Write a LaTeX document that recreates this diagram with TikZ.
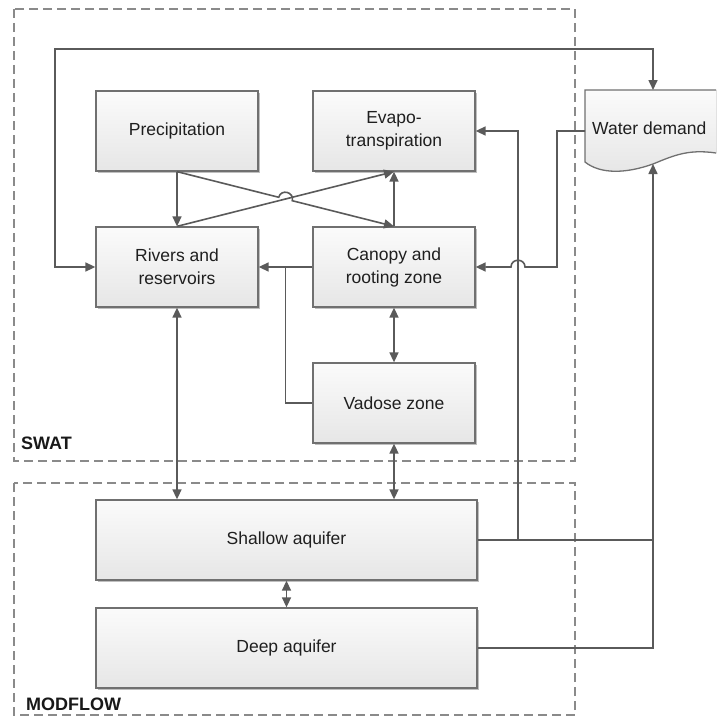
\documentclass[tikz,border=0pt]{standalone}
\usepackage{fontspec}
\setmainfont{Liberation Sans}
\usetikzlibrary{arrows.meta,calc,shadows}
\definecolor{boxline}{HTML}{707070}
\definecolor{boxtop}{HTML}{FBFBFB}
\definecolor{boxbot}{HTML}{E6E6E6}
\definecolor{connc}{HTML}{5A5A5A}
\definecolor{dashgray}{HTML}{8A8A8A}
\begin{document}
\begin{tikzpicture}[x=1pt,y=-1pt,
  box/.style={draw=boxline, line width=1.3pt, top color=boxtop, bottom color=boxbot,
    minimum width=162pt, minimum height=80pt, align=center, inner sep=2pt,
    font=\fontsize{17.5}{23}\selectfont, text=black!88,
    drop shadow={shadow xshift=1.5pt, shadow yshift=-1.5pt, fill=black!25, opacity=1}},
  conn/.style={draw=connc, line width=1.6pt},
  tip/.style={-{Triangle[length=10pt,width=9pt]}},
  dtip/.style={{Triangle[length=10pt,width=9pt]}-{Triangle[length=10pt,width=9pt]}},
  grp/.style={draw=dashgray, line width=1.4pt, dash pattern=on 9pt off 5pt},
  grplabel/.style={anchor=west, font=\bfseries\fontsize{18}{18}\selectfont, text=black!90, inner sep=0pt}]
\useasboundingbox (0,0) rectangle (716,717);
\clip (0,0) rectangle (716,717);

% group frames
\draw[grp] (14,9) rectangle (575,461);
\draw[grp] (14,483) rectangle (575,715);
\node[grplabel] (swat) at (21,443) {SWAT};
\node[grplabel] (modflow) at (26,704) {MODFLOW};

% boxes
\node[box] (pc) at (177,131) {Precipitation};
\node[box] (ev) at (394,131) {Evapo-\\transpiration};
\node[box] (rv) at (177,267) {Rivers and\\reservoirs};
\node[box] (cn) at (394,267) {Canopy and\\rooting zone};
\node[box] (vd) at (394,403) {Vadose zone};
\node[box, minimum width=381pt] (sh) at (286.5,540) {Shallow aquifer};
\node[box, minimum width=381pt] (dp) at (286.5,648) {Deep aquifer};

% water demand document shape
\fill[top color=boxtop, bottom color=boxbot] (585,90) -- (722,90) -- (722,154) .. controls (690,148) and (675,155) .. (653,164) .. controls (625,174) and (600,174) .. (585,162) -- cycle;
\draw[boxline, line width=1.3pt] (722,90) -- (585,90) -- (585,162) .. controls (600,174) and (625,174) .. (653,164) .. controls (675,155) and (690,148) .. (722,154);
\node[font=\fontsize{17.5}{23}\selectfont, text=black!88, anchor=west, inner sep=0pt] (wd) at (592,128) {Water demand};
\coordinate (wdL) at (585,131);
\coordinate (wdT) at (653,90);
\coordinate (wdB) at (653,164);

% connectors
\draw[conn,tip] (pc.south) -- (rv.north);
\draw[conn,tip] (cn.north) -- (ev.south);
\draw[conn,tip] (rv.north) -- (ev.south);
\coordinate (X) at (intersection of pc.south--cn.north and rv.north--ev.south);
\coordinate (h1) at ($(X)!7pt!(pc.south)$);
\coordinate (h2) at ($(X)!7pt!(cn.north)$);
\draw[conn,tip] (pc.south) -- (h1) .. controls ($(h1)!9pt!90:(h2)$) and ($(h2)!9pt!-90:(h1)$) .. (h2) -- (cn.north);

\draw[conn,tip] (cn.west) -- (rv.east);
\coordinate (jn) at ($(rv.east)!0.5!(cn.west)$);
\draw[conn] (vd.west) -| (jn);

\draw[conn,dtip] (rv.south) -- (rv.south |- sh.north);
\draw[conn,dtip] (cn.south) -- (vd.north);
\draw[conn,dtip] (vd.south) -- (vd.south |- sh.north);
\draw[conn,dtip] (sh.south) -- (dp.north);

% aquifers to water demand / evapotranspiration
\draw[conn] (sh.east) -- (sh.east -| wdB);
\draw[conn,tip] (sh.east -| 518,0) -- (518,131) -- (ev.east);
\draw[conn,tip] (dp.east) -- (dp.east -| wdB) -- (wdB);

% water demand to canopy (with hop)
\draw[conn,tip] (wdL) -- (557,131) -- (557,267) -- (525,267)
  .. controls (525,258) and (511,258) .. (511,267) -- (cn.east);

% loop rivers <-> water demand
\draw[conn,dtip] (rv.west) -- (55,267) -- (55,49) -- (653,49) -- (wdT);
\end{tikzpicture}
\end{document}
